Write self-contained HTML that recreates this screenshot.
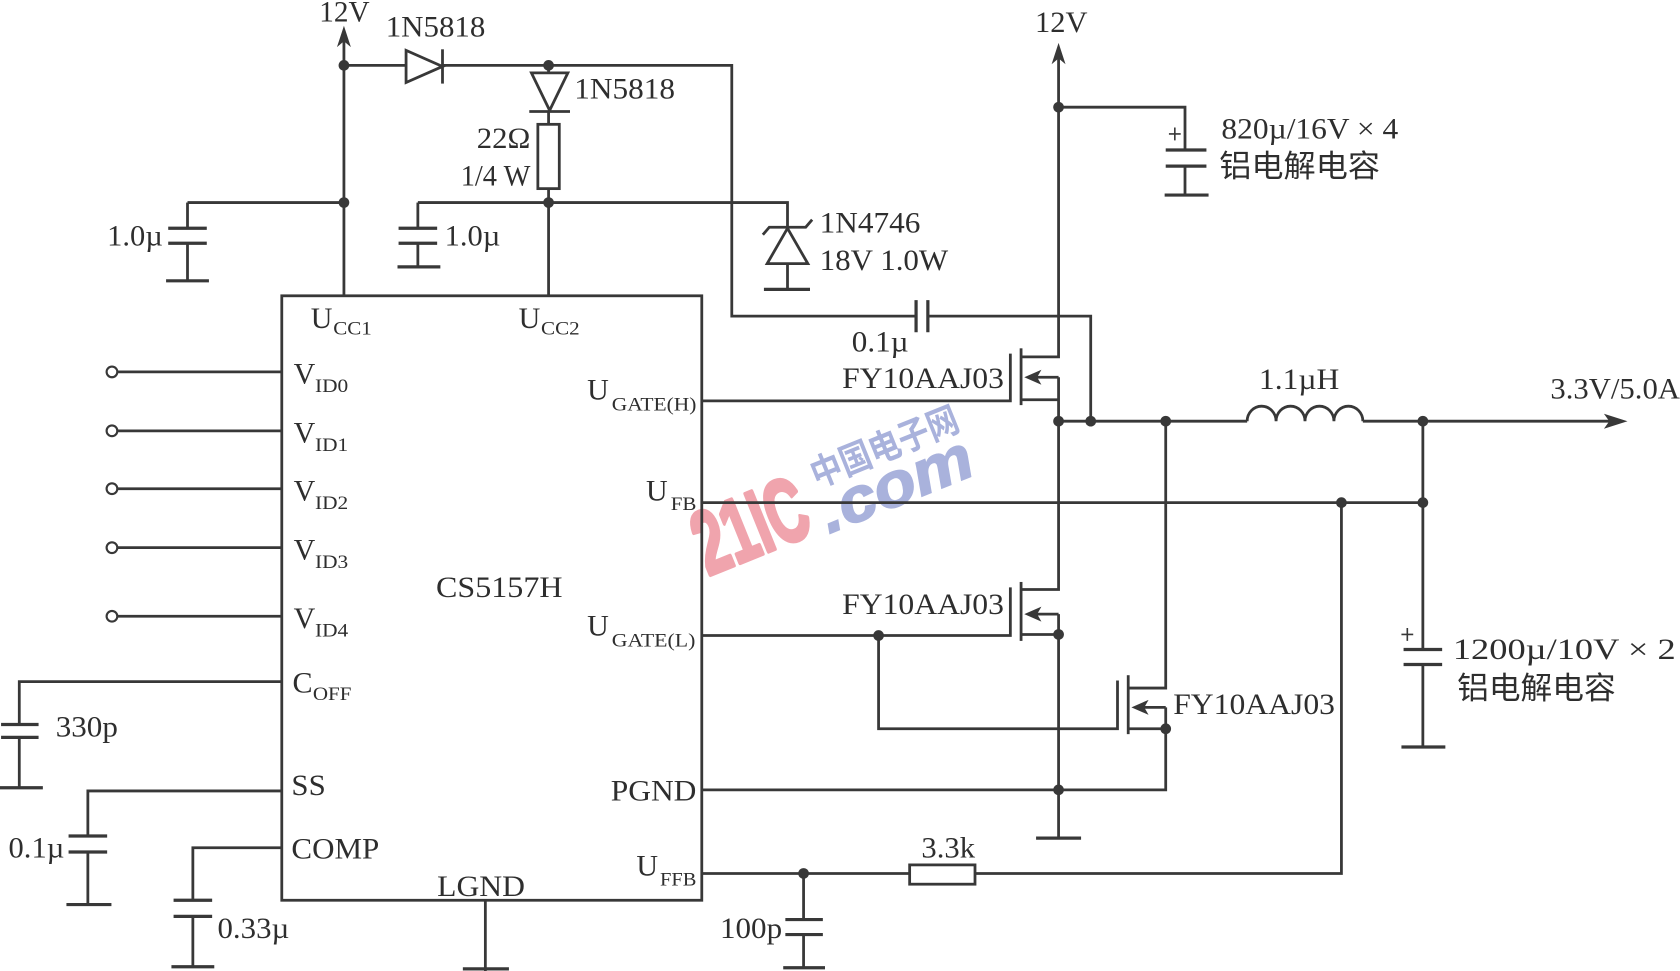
<!DOCTYPE html>
<html><head><meta charset="utf-8">
<style>
html,body{margin:0;padding:0;background:#fff;}
svg{display:block;}
text{font-family:"Liberation Serif","Noto Serif CJK SC",serif;fill:#2e2e2e;}
.cn{font-family:"Liberation Sans","Noto Sans CJK SC",sans-serif;}
</style></head>
<body>
<svg width="1680" height="971" viewBox="0 0 1568 906" preserveAspectRatio="none" xmlns="http://www.w3.org/2000/svg">
<rect width="1568" height="906" fill="#fff"/>

<!-- watermark -->
<g>
<text x="0" y="0" transform="translate(711,517) rotate(-22)" text-anchor="middle" font-weight="bold" font-size="84" textLength="108" lengthAdjust="spacingAndGlyphs" style="font-family:'Liberation Sans',sans-serif;fill:#f0a4ad;stroke:#f0a4ad;stroke-width:4;stroke-linejoin:round">21IC</text>
<text x="0" y="0" transform="translate(830,428) rotate(-22)" text-anchor="middle" class="cn" font-size="34" font-weight="bold" style="fill:#a9b2dc" textLength="146" lengthAdjust="spacingAndGlyphs">中国电子网</text>
<text x="0" y="0" transform="translate(843,470) rotate(-22)" text-anchor="middle" font-size="58" font-weight="bold" font-style="italic" style="font-family:'Liberation Sans',sans-serif;fill:#a9b2dc;stroke:#a9b2dc;stroke-width:1.5" textLength="150" lengthAdjust="spacingAndGlyphs">.com</text>
</g>

<g stroke="#383838" stroke-width="2.6" fill="none">
<!-- IC -->
<rect x="263" y="276" width="392" height="564"/>

<!-- top left rail -->
<path d="M321 34 V276"/>
<path d="M321 61 H379"/>
<path d="M413 46 V78"/>
<path d="M413 61 H683 V295 H855"/>
<path d="M855 280 V310 M866 280 V310" stroke-width="3"/>
<path d="M866 295 H1018 V393"/>
<!-- diode 2 -->
<path d="M512 61 V68"/>
<path d="M494 104 H532"/>
<path d="M512 104 V116"/>
<rect x="502" y="116" width="20" height="60"/>
<path d="M512 176 V276"/>
<path d="M390 189 H735 V212"/>
<!-- mid cap -->
<path d="M390 189 V213"/>
<path d="M372 213 H408 M372 227 H408" stroke-width="3"/>
<path d="M390 227 V249"/>
<path d="M371 249 H411" stroke-width="3"/>
<!-- left cap -->
<path d="M175 189 H321"/>
<path d="M175 189 V213"/>
<path d="M157 213 H193 M157 227 H193" stroke-width="3"/>
<path d="M175 227 V262"/>
<path d="M155 262 H195" stroke-width="3"/>
<!-- zener -->
<path d="M712 219 L718 212 H752 L758 205"/>
<path d="M735 246 V270"/>
<path d="M713 270 H756" stroke-width="3"/>

<!-- right 12V -->
<path d="M988 50 V333 H953"/>
<path d="M988 100 H1106 V140"/>
<path d="M1088 140 H1126 M1088 155 H1126" stroke-width="3"/>
<path d="M1106 155 V182"/>
<path d="M1087 182 H1128" stroke-width="3"/>
<path d="M1091 125 H1102 M1096.5 119 V131" stroke-width="1.5"/>

<!-- high mosfet -->
<path d="M655 374 H943 V330"/>
<path d="M953 325 V378"/>
<path d="M988 352 H962"/>
<path d="M953 373 H988"/>
<path d="M988 352 V550 H953"/>

<!-- low mosfet 1 -->
<path d="M655 593 H943 V548"/>
<path d="M953 543 V598"/>
<path d="M988 573 H962"/>
<path d="M953 592 H988"/>
<path d="M988 573 V782"/>
<path d="M967 782 H1009" stroke-width="3"/>

<!-- low mosfet 2 -->
<path d="M820 593 V680 H1043 V635"/>
<path d="M1053 630 V685"/>
<path d="M1088 393 V642 H1053"/>
<path d="M1088 660 H1062"/>
<path d="M1053 680 H1088"/>
<path d="M1088 660 V737 H655"/>

<!-- output line -->
<path d="M988 393 H1164"/>
<path d="M1164 393 a13.5 14 0 0 1 27 0 a13.5 14 0 0 1 27 0 a13.5 14 0 0 1 27 0 a13.5 14 0 0 1 27 0"/>
<path d="M1272 393 H1510"/>

<!-- UFB -->
<path d="M655 469 H1328"/>
<path d="M1328 393 V606"/>
<path d="M1310 606 H1346 M1310 620 H1346" stroke-width="3"/>
<path d="M1328 620 V697"/>
<path d="M1308 697 H1349" stroke-width="3"/>
<path d="M1308 592 H1319 M1313.5 586 V598" stroke-width="1.5"/>

<!-- UFFB -->
<path d="M1252 469 V815 H910"/>
<rect x="849" y="807" width="61" height="18"/>
<path d="M849 815 H655"/>
<path d="M750 815 V858"/>
<path d="M733 858 H768 M733 872 H768" stroke-width="3"/>
<path d="M750 872 V903"/>
<path d="M731 903 H770" stroke-width="3"/>

<!-- LGND -->
<path d="M453 840 V906"/>
<path d="M432 904 H475" stroke-width="3"/>

<!-- VID -->
<path d="M110 347 H263 M110 402 H263 M110 456 H263 M110 511 H263 M110 575 H263"/>
<g stroke-width="2">
<circle cx="104.5" cy="347" r="5"/>
<circle cx="104.5" cy="402" r="5"/>
<circle cx="104.5" cy="456" r="5"/>
<circle cx="104.5" cy="511" r="5"/>
<circle cx="104.5" cy="575" r="5"/>
</g>

<!-- COFF -->
<path d="M263 636 H18 V676"/>
<path d="M1 676 H36 M1 688 H36" stroke-width="3"/>
<path d="M18 688 V735"/>
<path d="M0 735 H40" stroke-width="3"/>
<!-- SS -->
<path d="M263 738 H82 V780"/>
<path d="M64 780 H100 M64 795 H100" stroke-width="3"/>
<path d="M82 795 V844"/>
<path d="M62 844 H104" stroke-width="3"/>
<!-- COMP -->
<path d="M263 791 H180 V840"/>
<path d="M162 840 H198 M162 855 H198" stroke-width="3"/>
<path d="M180 855 V902"/>
<path d="M160 902 H200" stroke-width="3"/>
</g>

<!-- filled shapes -->
<g fill="#383838" stroke="none">
<path d="M321 24 L314.5 44 L321 38.5 L327.5 44 Z"/>
<path d="M988 40 L981.5 60 L988 54.5 L994.5 60 Z"/>
<path d="M1519 393 L1497 386 L1502 393 L1497 400 Z"/>
<path d="M956 352 L972 345 L968 352 L972 359 Z"/>
<path d="M956 573 L972 566 L968 573 L972 580 Z"/>
<path d="M1056 660 L1072 653 L1068 660 L1072 667 Z"/>
<circle cx="321" cy="61" r="5"/>
<circle cx="512" cy="61" r="5"/>
<circle cx="321" cy="189" r="5"/>
<circle cx="512" cy="189" r="5"/>
<circle cx="988" cy="100" r="5"/>
<circle cx="988" cy="393" r="5"/>
<circle cx="1018" cy="393" r="5"/>
<circle cx="1088" cy="393" r="5"/>
<circle cx="1328" cy="393" r="5"/>
<circle cx="1252" cy="469" r="5"/>
<circle cx="1328" cy="469" r="5"/>
<circle cx="820" cy="593" r="5"/>
<circle cx="988" cy="592" r="5"/>
<circle cx="1088" cy="680" r="5"/>
<circle cx="988" cy="737" r="5"/>
<circle cx="750" cy="815" r="5"/>
</g>

<!-- diodes -->
<g stroke="#383838" stroke-width="2.6" fill="#fff">
<path d="M379 47 L379 77 L413 62 Z"/>
<path d="M496 68 L530 68 L513 103 Z"/>
<path d="M735 213 L716 246 L754 246 Z"/>
</g>

<!-- labels -->
<g font-size="28">
<text x="298" y="20" textLength="47" lengthAdjust="spacingAndGlyphs">12V</text>
<text x="360" y="34" textLength="93" lengthAdjust="spacingAndGlyphs">1N5818</text>
<text x="536" y="92" textLength="94" lengthAdjust="spacingAndGlyphs">1N5818</text>
<text x="445" y="138" textLength="50" lengthAdjust="spacingAndGlyphs">22Ω</text>
<text x="430" y="173" textLength="65" lengthAdjust="spacingAndGlyphs">1/4 W</text>
<text x="100" y="229" textLength="52" lengthAdjust="spacingAndGlyphs">1.0µ</text>
<text x="415" y="229" textLength="52" lengthAdjust="spacingAndGlyphs">1.0µ</text>
<text x="765" y="217" textLength="94" lengthAdjust="spacingAndGlyphs">1N4746</text>
<text x="765" y="252" textLength="120" lengthAdjust="spacingAndGlyphs">18V 1.0W</text>
<text x="966" y="30" textLength="49" lengthAdjust="spacingAndGlyphs">12V</text>
<text x="1140" y="129" textLength="165" lengthAdjust="spacingAndGlyphs">820µ/16V × 4</text>
<text x="1138" y="165" class="cn" font-size="29" textLength="150" lengthAdjust="spacingAndGlyphs">铝电解电容</text>
<text x="795" y="328" textLength="53" lengthAdjust="spacingAndGlyphs">0.1µ</text>
<text x="786" y="362" textLength="151" lengthAdjust="spacingAndGlyphs">FY10AAJ03</text>
<text x="1175" y="363" textLength="75" lengthAdjust="spacingAndGlyphs">1.1µH</text>
<text x="1447" y="372" textLength="121" lengthAdjust="spacingAndGlyphs">3.3V/5.0A</text>
<text x="786" y="573" textLength="151" lengthAdjust="spacingAndGlyphs">FY10AAJ03</text>
<text x="1095" y="666" textLength="151" lengthAdjust="spacingAndGlyphs">FY10AAJ03</text>
<text x="1356" y="615" textLength="208" lengthAdjust="spacingAndGlyphs">1200µ/10V × 2</text>
<text x="1360" y="652" class="cn" font-size="29" textLength="148" lengthAdjust="spacingAndGlyphs">铝电解电容</text>
<text x="860" y="800" textLength="50" lengthAdjust="spacingAndGlyphs">3.3k</text>
<text x="672" y="875" textLength="58" lengthAdjust="spacingAndGlyphs">100p</text>
<text x="408" y="836" textLength="82" lengthAdjust="spacingAndGlyphs">LGND</text>
<text x="203" y="875" textLength="67" lengthAdjust="spacingAndGlyphs">0.33µ</text>
<text x="8" y="800" textLength="52" lengthAdjust="spacingAndGlyphs">0.1µ</text>
<text x="52" y="687" textLength="58" lengthAdjust="spacingAndGlyphs">330p</text>
<text x="272" y="801" textLength="82" lengthAdjust="spacingAndGlyphs">COMP</text>
<text x="272" y="742" textLength="32" lengthAdjust="spacingAndGlyphs">SS</text>
<text x="407" y="557" textLength="118" lengthAdjust="spacingAndGlyphs">CS5157H</text>
<text x="570" y="747" textLength="80" lengthAdjust="spacingAndGlyphs">PGND</text>

<text x="273" y="646">C</text><text x="292" y="653" font-size="18" textLength="36" lengthAdjust="spacingAndGlyphs">OFF</text>
<text x="274" y="358">V</text><text x="294" y="366" font-size="18" textLength="31" lengthAdjust="spacingAndGlyphs">ID0</text>
<text x="274" y="413">V</text><text x="294" y="421" font-size="18" textLength="31" lengthAdjust="spacingAndGlyphs">ID1</text>
<text x="274" y="467">V</text><text x="294" y="475" font-size="18" textLength="31" lengthAdjust="spacingAndGlyphs">ID2</text>
<text x="274" y="522">V</text><text x="294" y="530" font-size="18" textLength="31" lengthAdjust="spacingAndGlyphs">ID3</text>
<text x="274" y="586">V</text><text x="294" y="594" font-size="18" textLength="31" lengthAdjust="spacingAndGlyphs">ID4</text>
<text x="290" y="306">U</text><text x="311" y="312" font-size="18" textLength="36" lengthAdjust="spacingAndGlyphs">CC1</text>
<text x="484" y="306">U</text><text x="505" y="312" font-size="18" textLength="36" lengthAdjust="spacingAndGlyphs">CC2</text>
<text x="548" y="373">U</text><text x="571" y="383" font-size="18" textLength="79" lengthAdjust="spacingAndGlyphs">GATE(H)</text>
<text x="603" y="467">U</text><text x="626" y="476" font-size="18" textLength="24" lengthAdjust="spacingAndGlyphs">FB</text>
<text x="548" y="593">U</text><text x="571" y="603" font-size="18" textLength="78" lengthAdjust="spacingAndGlyphs">GATE(L)</text>
<text x="594" y="817">U</text><text x="616" y="826" font-size="18" textLength="34" lengthAdjust="spacingAndGlyphs">FFB</text>
</g>
</svg>
</body></html>
